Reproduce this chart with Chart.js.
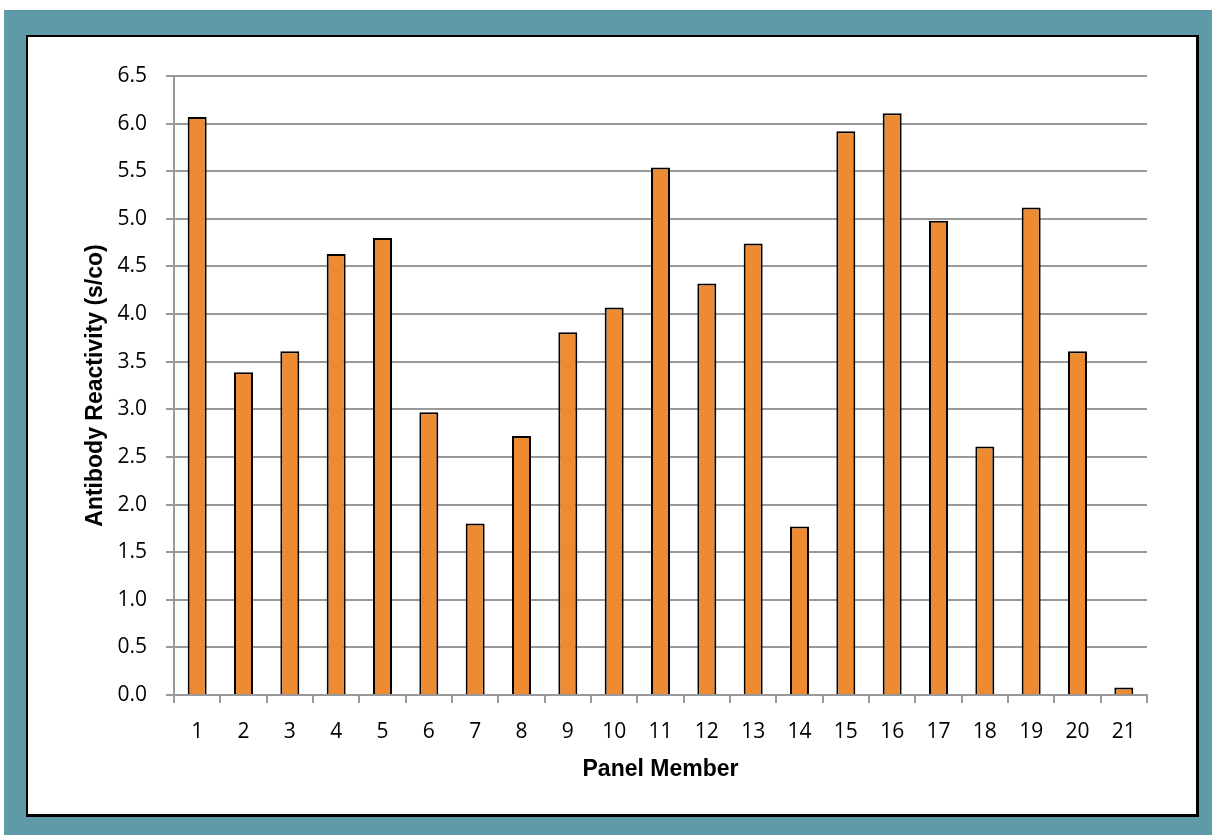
<!DOCTYPE html>
<html>
<head>
<meta charset="utf-8">
<script src="https://cdn.jsdelivr.net/npm/chart.js@4/dist/chart.umd.min.js"></script>
<style>
    html, body { margin: 0; padding: 0; background: #ffffff; }
    #frame { position: absolute; left: 4px; top: 10px; width: 1208px; height: 825px; background: #5e9aa8; }
    #panel { position: absolute; left: 26px; top: 35px; width: 1168px; height: 777px; background: #ffffff; border: 2px solid #000000; border-right-width: 3px; border-bottom-width: 3px; }
    #wrap { position: absolute; left: 0; top: 0; width: 1212px; height: 835px; }
</style>
</head>
<body>
<div id="frame"></div>
<div id="panel"></div>
<div id="wrap"><canvas id="chart"></canvas></div>
<script>
// Panel members and their antibody reactivity (s/co)
const panelMembers = ['1', '2', '3', '4', '5', '6', '7', '8', '9', '10', '11',
    '12', '13', '14', '15', '16', '17', '18', '19', '20', '21'];
const reactivity = [6.07, 3.39, 3.61, 4.63, 4.80, 2.97, 1.80, 2.72, 3.81, 4.07, 5.54,
    4.32, 4.74, 1.77, 5.92, 6.11, 4.98, 2.61, 5.12, 3.61, 0.08];

const yMin = 0;
const yMax = 6.5;
const yStep = 0.5;

const gridColor = '#999999';
const tickFont = { family: '"Open Sans", "Liberation Sans", sans-serif', size: 21 };
const titleFont = { family: '"Liberation Sans", Arial, sans-serif', size: 23, weight: 'bold' };

const ctx = document.getElementById('chart').getContext('2d');

new Chart(ctx, {
    type: 'bar',
    data: {
        labels: panelMembers,
        datasets: [{
            label: 'Antibody Reactivity',
            data: reactivity,
            backgroundColor: '#ed8b33',
            borderColor: '#000000',
            borderWidth: 2,
            barPercentage: 0.41,
            categoryPercentage: 1.0
        }]
    },
    options: {
        responsive: true,
        maintainAspectRatio: false,
        animation: false,
        layout: {
            padding: { left: 82, top: 76, right: 65, bottom: 52 }
        },
        plugins: {
            legend: { display: false },
            tooltip: { enabled: false }
        },
        scales: {
            x: {
                offset: true,
                grid: {
                    offset: true,
                    drawOnChartArea: false,
                    color: gridColor,
                    lineWidth: 2,
                    tickLength: 8
                },
                border: { color: gridColor, width: 2 },
                ticks: {
                    color: '#000000',
                    font: tickFont,
                    padding: 16,
                    maxRotation: 0
                },
                title: {
                    display: true,
                    text: 'Panel Member',
                    color: '#000000',
                    font: titleFont,
                    padding: { top: 8, bottom: 0 }
                },
                afterFit: function(scale) {
                    scale.height = 88;
                }
            },
            y: {
                min: yMin,
                max: yMax,
                grid: {
                    color: gridColor,
                    lineWidth: 2,
                    tickLength: 8
                },
                border: { color: gridColor, width: 2 },
                ticks: {
                    stepSize: yStep,
                    color: '#000000',
                    font: tickFont,
                    padding: 19,
                    callback: function(value) {
                        return value.toFixed(1);
                    }
                },
                title: {
                    display: true,
                    text: 'Antibody Reactivity (s/co)',
                    color: '#000000',
                    font: titleFont,
                    padding: { top: 0, bottom: 4 }
                },
                afterFit: function(scale) {
                    scale.width = 92;
                }
            }
        }
    }
});
</script>
</body>
</html>
